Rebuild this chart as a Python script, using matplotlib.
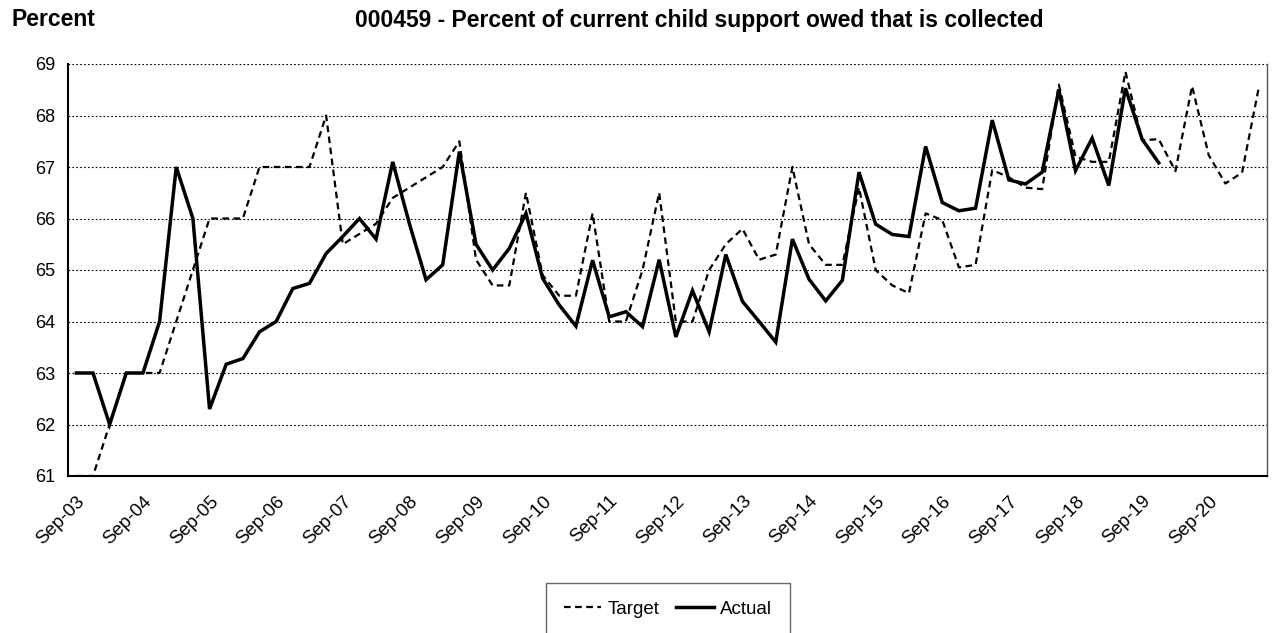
import matplotlib
matplotlib.use("Agg")
import matplotlib.pyplot as plt
import matplotlib.transforms as mtransforms

plt.rcParams['font.family'] = ['Liberation Sans', 'DejaVu Sans']

# quarterly values, Sep-03 onward
target = [61, 61, 62, 63, 63, 63, 64, 65, 66, 66, 66, 67, 67, 67, 67, 68,
          65.5, 65.7, 65.9, 66.4, 66.6, 66.8, 67.0, 67.5,
          65.2, 64.7, 64.7, 66.5, 64.9, 64.5, 64.5, 66.1,
          64.0, 64.0, 65.0, 66.5, 64.0, 64.0, 65.0, 65.5,
          65.8, 65.2, 65.3, 67.0, 65.5, 65.1, 65.1, 66.6,
          65.0, 64.7, 64.55, 66.1, 65.97, 65.05, 65.1, 66.94,
          66.8, 66.6, 66.57, 68.6, 67.2, 67.1, 67.1, 68.85,
          67.52, 67.54, 66.92, 68.57, 67.23, 66.68, 66.89, 68.53]
actual = [63, 63, 62, 63, 63, 64, 67, 66, 62.3, 63.17, 63.28, 63.8, 64.0, 64.64, 64.74, 65.32,
          65.65, 66.0, 65.6, 67.1, 65.9, 64.81, 65.1, 67.3,
          65.5, 65.0, 65.42, 66.1, 64.84, 64.32, 63.91, 65.19,
          64.09, 64.19, 63.9, 65.2, 63.7, 64.6, 63.8, 65.3,
          64.39, 64.0, 63.6, 65.6, 64.82, 64.4, 64.8, 66.9,
          65.89, 65.69, 65.65, 67.4, 66.31, 66.15, 66.2, 67.91,
          66.75, 66.67, 66.9, 68.5, 66.93, 67.56, 66.64, 68.53,
          67.54, 67.08]
tick_labels = ["Sep-03", "Sep-04", "Sep-05", "Sep-06", "Sep-07", "Sep-08",
               "Sep-09", "Sep-10", "Sep-11", "Sep-12", "Sep-13", "Sep-14",
               "Sep-15", "Sep-16", "Sep-17", "Sep-18", "Sep-19", "Sep-20"]


def drawChart():
    W, H = 1274, 633
    fig = plt.figure(figsize=(W / 100, H / 100), dpi=100)
    ax = fig.add_axes([68 / W, 1 - 476 / H, (1267 - 68) / W, (476 - 64) / H])

    ax.plot(range(len(target)), target, color="black", lw=1.6,
            dashes=(3, 2), label="Target")
    ax.plot(range(len(actual)), actual, color="black", lw=2.5,
            solid_joinstyle="miter", label="Actual")

    ax.set_xlim(-0.5, len(target) - 0.5)
    ax.set_ylim(61, 69)
    ax.set_yticks(range(61, 70))
    ax.set_xticks(range(0, 4 * len(tick_labels), 4))
    ax.set_xticklabels(tick_labels, rotation=45, ha="right",
                       rotation_mode="anchor", fontsize=13.5)
    # nudge the slanted labels a little to the right
    shift = mtransforms.ScaledTranslation(5 / 100, 0, fig.dpi_scale_trans)
    for lbl in ax.get_xticklabels():
        lbl.set_transform(lbl.get_transform() + shift)
    ax.tick_params(axis="y", labelsize=13, length=0, pad=9)
    ax.tick_params(axis="x", length=0, pad=12)
    ax.yaxis.grid(True, color="black", linestyle=(0, (1.5, 2)), lw=0.8)
    ax.set_axisbelow(True)

    ax.spines["top"].set_visible(False)
    ax.spines["left"].set_linewidth(1.5)
    ax.spines["bottom"].set_linewidth(1.5)
    ax.spines["right"].set_linewidth(1.0)
    ax.spines["right"].set_color("#555555")

    fig.text(12 / W, 1 - 20 / H, "Percent", fontsize=16.5, fontweight="bold", va="center")
    fig.text(355 / W, 1 - 20 / H,
             "000459 - Percent of current child support owed that is collected",
             fontsize=16.5, fontweight="bold", va="center", ha="left")

    leg = fig.legend(loc="upper center", bbox_to_anchor=(668 / W, 1 - 583 / H),
                     ncol=2, fontsize=13.5, frameon=True, fancybox=False,
                     handlelength=2.0, columnspacing=0.9, borderpad=0.95,
                     handletextpad=0.35, borderaxespad=0)
    leg.get_frame().set_edgecolor("#444444")
    leg.get_frame().set_linewidth(1.0)

    fig.savefig("out.png", dpi=100)


def main():
    drawChart()


if __name__ == "__main__":
    main()
